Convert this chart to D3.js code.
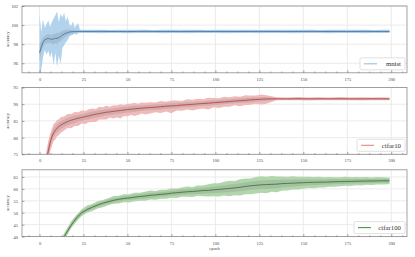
<!DOCTYPE html>
<html>
<head>
<meta charset="utf-8">
<script src="https://cdn.jsdelivr.net/npm/d3@7"></script>
<style>
  body { margin: 0; background: #fff; }
  svg { display: block; }
  text { font-family: "Liberation Serif", "DejaVu Serif", serif; }
</style>
</head>
<body>
<svg></svg>
<script>
var width = 415;
var height = 257;

// ---- data ----
var mnistEpoch = [0,1,2,3,4,5,6,7,8,9,10,11,12,13,14,15,16,17,18,19,20,21,22,23,24,
  30,35,40,45,50,55,60,65,70,75,80,85,90,95,100,105,110,115,120,125,130,135,140,145,150,
  155,160,165,170,175,180,185,190,195,199];
var mnistMean = [97.1,97.7,98.2,98.45,98.55,98.6,98.55,98.5,98.55,98.6,98.6,98.7,98.8,98.95,99.05,99.15,99.22,99.27,99.3,99.31,99.32,99.33,99.33,99.33,99.33,
  99.33,99.34,99.33,99.33,99.32,99.33,99.34,99.33,99.33,99.33,99.32,99.33,99.34,99.33,99.33,99.33,99.32,99.33,99.33,99.34,99.33,99.33,99.32,99.33,99.33,
  99.34,99.33,99.33,99.33,99.32,99.33,99.34,99.33,99.33,99.33];
var mnistHi = [101.1,99.3,100.6,99.7,100.1,100.5,99.8,100.3,100.7,101.0,101.45,100.3,101.2,100.8,101.3,100.4,100.9,100.1,99.9,100.4,99.7,100.0,100.2,99.55,99.52,
  99.5,99.52,99.49,99.51,99.5,99.52,99.5,99.49,99.51,99.5,99.52,99.5,99.51,99.49,99.5,99.52,99.5,99.51,99.5,99.49,99.52,99.5,99.51,99.5,99.5,
  99.52,99.49,99.5,99.51,99.5,99.52,99.5,99.49,99.51,99.5];
var mnistLo = [93.5,95.3,96.6,97.4,96.9,97.3,96.6,97.2,95.8,97.1,95.6,96.8,95.9,97.6,97.9,98.2,98.4,98.8,98.9,99.0,99.1,99.0,99.15,99.17,99.16,
  99.16,99.15,99.17,99.16,99.15,99.17,99.16,99.16,99.15,99.17,99.16,99.15,99.16,99.17,99.16,99.15,99.16,99.17,99.16,99.15,99.16,99.17,99.16,99.15,99.16,
  99.17,99.16,99.15,99.16,99.17,99.16,99.15,99.16,99.17,99.16];
var mnistSd = [0.9,0.6,0.5,0.4,0.45,0.5,0.4,0.45,0.55,0.5,0.6,0.45,0.5,0.45,0.4,0.35,0.3,0.25,0.2,0.18,0.15,0.12,0.1,0.08,0.08,
  0.08,0.08,0.08,0.08,0.08,0.08,0.08,0.08,0.08,0.08,0.08,0.08,0.08,0.08,0.08,0.08,0.08,0.08,0.08,0.08,0.08,0.08,0.08,0.08,0.08,
  0.08,0.08,0.08,0.08,0.08,0.08,0.08,0.08,0.08,0.08];

var cifar10Epoch = [0,1,2,3,4,5,6,7,8,9,10,11,12,
  14,16,18,20,22,24,26,28,30,32,34,36,38,40,42,44,46,48,50,52,54,56,58,60,
  63,66,69,72,75,78,81,84,87,90,93,96,99,102,105,108,111,114,117,120,123,126,129,
  135,141,147,153,159,165,171,177,183,189,195,199];
var cifar10Mean = [40,55,63,69.5,73.5,76.0,78.4,80.2,81.4,82.2,82.8,83.3,83.7,
  84.3,84.8,85.2,85.5,85.8,86.0,86.3,86.5,86.8,87.0,87.2,87.4,87.6,87.7,87.85,88.0,88.1,88.25,88.4,88.5,88.6,88.7,88.8,88.9,
  89.0,89.1,89.25,89.4,89.5,89.6,89.75,89.85,89.95,90.1,90.2,90.3,90.45,90.55,90.7,90.8,90.95,91.05,91.15,91.3,91.4,91.5,91.55,
  91.6,91.6,91.62,91.6,91.62,91.6,91.62,91.6,91.6,91.62,91.6,91.6];
var cifar10Up = [3.0,3.0,3.0,2.8,2.7,2.9,2.6,2.4,2.7,2.3,2.5,2.2,2.4,
  2.0,2.3,1.9,2.2,1.8,2.1,1.7,2.0,1.9,1.6,2.0,1.7,1.9,1.5,1.8,1.6,1.9,1.5,1.7,1.6,1.8,1.4,1.7,1.5,
  1.6,1.4,1.7,1.3,1.6,1.5,1.2,1.6,1.4,1.5,1.3,1.6,1.4,1.2,1.5,1.3,1.4,1.2,1.5,1.3,1.2,1.4,1.1,
  0.45,0.4,0.5,0.4,0.45,0.4,0.5,0.4,0.45,0.4,0.45,0.4];
var cifar10Down = [3.2,3.2,3.2,3.0,2.9,3.1,2.7,2.9,2.5,2.8,2.4,2.6,2.3,
  2.2,1.9,2.4,2.0,2.3,1.8,2.2,1.9,2.1,2.3,1.8,2.0,2.2,1.7,2.1,1.9,2.4,1.8,2.0,1.7,2.1,1.9,1.6,2.0,
  1.8,1.5,1.9,1.6,2.2,1.5,1.7,1.4,1.8,1.6,1.5,1.9,1.4,1.7,1.5,1.6,1.3,1.7,1.4,1.5,1.3,1.6,1.4,
  0.4,0.45,0.4,0.5,0.4,0.45,0.4,0.45,0.5,0.4,0.45,0.4];
var cifar10Sd = [1.6,1.6,1.6,1.5,1.4,1.5,1.3,1.3,1.3,1.2,1.2,1.2,1.2,
  1.1,1.1,1.1,1.1,1.0,1.0,1.0,1.0,1.0,1.0,1.0,0.9,0.9,0.9,0.9,0.9,0.9,0.9,0.9,0.9,0.9,0.8,0.8,0.8,
  0.8,0.8,0.8,0.8,0.8,0.8,0.7,0.8,0.7,0.7,0.7,0.7,0.7,0.7,0.7,0.7,0.7,0.7,0.7,0.7,0.6,0.6,0.6,
  0.2,0.2,0.2,0.2,0.2,0.2,0.2,0.2,0.2,0.2,0.2,0.2];

var cifar100Epoch = [0,6,10,12,13,
  15,18,21,24,27,30,33,36,39,42,45,
  48,51,54,57,60,63,66,69,72,75,78,81,84,87,90,93,96,
  99,102,105,108,111,114,117,120,123,126,129,132,135,138,141,144,147,150,
  153,156,159,162,165,168,171,174,177,180,183,186,189,192,195,198,199];
var cifar100Mean = [5,20,33,37,38.6,
  41.2,44.8,47.8,50.0,51.3,52.3,53.2,54.0,54.6,55.2,55.6,
  56.0,56.2,56.5,56.8,57.0,57.3,57.5,57.7,57.9,58.2,58.4,58.6,58.8,58.9,59.1,59.3,59.4,
  59.6,59.8,60.0,60.2,60.4,60.7,61.0,61.3,61.5,61.7,61.8,61.9,62.0,62.2,62.3,62.4,62.5,62.6,
  62.7,62.75,62.8,62.85,62.9,63.0,63.05,63.1,63.15,63.2,63.25,63.3,63.3,63.35,63.4,63.4,63.4];
var cifar100Up = [1.5,1.5,1.5,1.5,1.5,
  1.4,1.6,1.3,1.5,1.7,1.4,1.6,1.3,1.5,1.8,1.5,
  1.7,1.5,1.9,1.6,1.8,2.0,1.6,1.9,1.7,2.1,1.8,2.0,2.2,1.9,2.3,2.1,2.5,
  2.8,2.6,3.0,3.2,2.9,3.3,3.4,3.1,3.5,3.6,3.3,3.5,3.2,3.0,2.8,2.9,2.6,2.5,
  2.4,2.2,2.3,2.0,2.1,1.9,1.8,2.0,1.7,1.8,1.6,1.7,1.5,1.6,1.5,1.4,1.4];
var cifar100Down = [1.5,1.5,1.5,1.5,1.5,
  1.5,1.3,1.6,1.4,1.3,1.6,1.4,1.7,1.5,1.4,1.7,
  1.6,1.9,1.7,1.8,2.0,1.7,2.1,1.8,2.0,1.9,2.2,1.9,2.1,2.3,2.0,2.4,2.6,
  2.7,3.0,2.8,3.3,3.1,3.5,3.2,3.6,3.4,3.3,3.6,3.1,3.4,2.9,3.0,2.7,2.8,2.5,
  2.3,2.5,2.2,2.3,2.0,2.1,1.9,1.8,1.9,1.7,1.8,1.6,1.7,1.5,1.6,1.5,1.5];
var cifar100Sd = [0.8,0.8,0.8,0.8,0.8,
  0.8,0.8,0.8,0.8,0.8,0.8,0.8,0.8,0.8,0.9,0.9,
  0.9,0.9,0.9,0.9,1.0,1.0,1.0,1.0,1.0,1.0,1.1,1.1,1.1,1.1,1.2,1.2,1.3,
  1.4,1.4,1.5,1.6,1.6,1.7,1.7,1.7,1.8,1.8,1.8,1.8,1.7,1.6,1.5,1.5,1.4,1.3,
  1.2,1.2,1.1,1.1,1.1,1.0,1.0,1.0,0.9,0.9,0.9,0.9,0.8,0.8,0.8,0.8,0.8];

var xTicks = [0,25,50,75,100,125,150,175,200];

var panels = [
  {name: "mnist", epoch: mnistEpoch, mean: mnistMean, hiAbs: mnistHi, loAbs: mnistLo, sd: mnistSd,
   yDomain: [95, 102], yTicks: [96,98,100,102], top: 6,
   band: "#b3d3ec", line: "#3574ad", legend: "#93c2e3"},
  {name: "cifar10", epoch: cifar10Epoch, mean: cifar10Mean, up: cifar10Up, down: cifar10Down, sd: cifar10Sd,
   yDomain: [75, 95], yTicks: [75,80,85,90,95], top: 87.5,
   band: "#efbaba", line: "#b03c3c", legend: "#e58585"},
  {name: "cifar100", epoch: cifar100Epoch, mean: cifar100Mean, up: cifar100Up, down: cifar100Down, sd: cifar100Sd,
   yDomain: [40, 68], yTicks: [40,45,50,55,60,65], top: 169.8,
   band: "#b2d6ab", line: "#2f7030", legend: "#4a964a"}
];

var svg = d3.select("svg")
  .attr("width", width)
  .attr("height", height);

var left = 22, right = 407, ph = 66.8;

var x = d3.scaleLinear().domain([-9.95, 208.95]).range([left, right]);

panels.forEach(function(p, k) {
  var y = d3.scaleLinear().domain(p.yDomain).range([p.top + ph, p.top]);
  var g = svg.append("g");

  var rows = p.epoch.map(function(e, i) {
    var m = p.mean[i];
    return {
      e: e, m: m,
      hi: p.hiAbs ? p.hiAbs[i] : m + p.up[i],
      lo: p.loAbs ? p.loAbs[i] : m - p.down[i],
      s: p.sd[i]
    };
  });

  g.append("clipPath").attr("id", "clip" + k)
    .append("rect").attr("x", left).attr("y", p.top).attr("width", right - left).attr("height", ph);

  // grid
  g.selectAll(".gx").data(xTicks).enter().append("line")
    .attr("x1", function(d) { return x(d); }).attr("x2", function(d) { return x(d); })
    .attr("y1", p.top).attr("y2", p.top + ph)
    .attr("stroke", "#e6e6e6").attr("stroke-width", 0.8);
  g.selectAll(".gy").data(p.yTicks).enter().append("line")
    .attr("x1", left).attr("x2", right)
    .attr("y1", function(d) { return y(d); }).attr("y2", function(d) { return y(d); })
    .attr("stroke", "#e6e6e6").attr("stroke-width", 0.8);

  var plot = g.append("g").attr("clip-path", "url(#clip" + k + ")");

  plot.append("path").datum(rows)
    .attr("d", d3.area().x(function(d) { return x(d.e); })
      .y0(function(d) { return y(d.lo); }).y1(function(d) { return y(d.hi); }))
    .attr("fill", p.band);

  plot.append("path").datum(rows)
    .attr("d", d3.area().x(function(d) { return x(d.e); })
      .y0(function(d) { return y(d.m - d.s); }).y1(function(d) { return y(d.m + d.s); }))
    .attr("fill", "#808080").attr("fill-opacity", 0.25);

  plot.append("path").datum(rows)
    .attr("d", d3.line().x(function(d) { return x(d.e); }).y(function(d) { return y(d.m); }))
    .attr("fill", "none").attr("stroke", p.line).attr("stroke-width", 0.8);

  // frame
  g.append("rect").attr("x", left).attr("y", p.top).attr("width", right - left).attr("height", ph)
    .attr("fill", "none").attr("stroke", "#8c8c8c").attr("stroke-width", 0.8);

  // x axis (ticks inward)
  var xa = g.append("g").attr("transform", "translate(0," + (p.top + ph) + ")")
    .call(d3.axisBottom(x).tickValues(xTicks).tickSize(-2.5).tickPadding(5).tickFormat(d3.format("d")));
  var xm = g.append("g").attr("transform", "translate(0," + (p.top + ph) + ")")
    .call(d3.axisBottom(x).tickValues(d3.range(-6.25, 209, 6.25).filter(function(d) { return d % 25 != 0; }))
      .tickSize(-1.3).tickFormat(""));
  var ya = g.append("g").attr("transform", "translate(" + left + ",0)")
    .call(d3.axisLeft(y).tickValues(p.yTicks).tickSize(-2.5).tickPadding(4).tickFormat(d3.format("d")));
  [xa, xm, ya].forEach(function(a) {
    a.select(".domain").remove();
    a.selectAll("line").attr("stroke", "#555").attr("stroke-width", 0.5);
    a.selectAll("text").attr("fill", "#444").style("font-size", "4.4px")
      .style("font-family", "'Liberation Serif', serif");
  });

  g.append("text")
    .attr("transform", "translate(9," + (p.top + ph / 2) + ") rotate(-90)")
    .attr("text-anchor", "middle").attr("fill", "#444").style("font-size", "4.4px")
    .text("accuracy");

  // legend
  var lw = p.name == "mnist" ? 45 : (p.name == "cifar10" ? 48 : 51);
  var lx = right - 2 - lw, ly = p.top + ph - 15;
  var lg = g.append("g").attr("transform", "translate(" + lx + "," + ly + ")");
  lg.append("rect").attr("width", lw).attr("height", 12).attr("rx", 1.5)
    .attr("fill", "#fff").attr("fill-opacity", 0.85).attr("stroke", "#d4d4d4").attr("stroke-width", 0.7);
  lg.append("line").attr("x1", 4).attr("x2", 17).attr("y1", 6).attr("y2", 6)
    .attr("stroke", p.legend).attr("stroke-width", 1.1);
  lg.append("text").attr("x", lw - 4).attr("y", 8.3).attr("text-anchor", "end")
    .attr("fill", "#333").style("font-size", "6.8px").text(p.name);
});

svg.append("text").attr("x", (left + right) / 2).attr("y", 249.5)
  .attr("text-anchor", "middle").attr("fill", "#444").style("font-size", "4.4px")
  .text("epoch");
</script>
</body>
</html>
